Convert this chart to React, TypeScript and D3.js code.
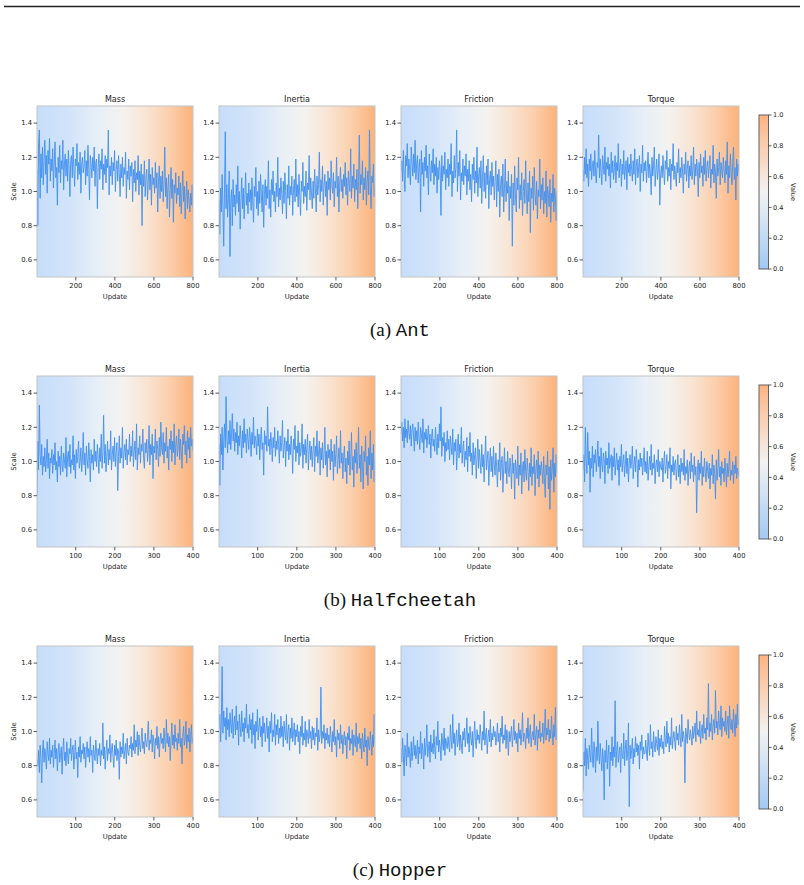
import React from 'react';
import * as d3 from 'd3';

// Panel titles (one column per perturbed physical parameter)
const titles = ['Mass', 'Inertia', 'Friction', 'Torque'];

// Sampled scale factors per update, stored in hundredths (115 -> 1.15)
const antMass = [
  113, 80, 128, 136, 96, 122, 108, 126, 104, 118, 130, 110, 121, 99, 124, 116, 131, 106, 119, 112,
  125, 102, 117, 129, 108, 114, 92, 120, 111, 127, 105, 118, 113, 130, 101, 116, 122, 109, 119, 106,
  124, 112, 97, 118, 121, 108, 126, 114, 103, 119, 115, 128, 107, 117, 110, 123, 99, 116, 120, 111,
  115, 124, 104, 118, 109, 127, 113, 95, 121, 116, 108, 120, 112, 126, 103, 117, 119, 90, 114, 122,
  107, 118, 113, 125, 101, 116, 110, 121, 105, 119, 114, 136, 98, 115, 109, 120, 104, 117, 112, 124,
  100, 113, 118, 106, 121, 111, 97, 116, 108, 120, 103, 114, 110, 123, 96, 112, 107, 119, 101, 115,
  109, 117, 94, 113, 105, 118, 100, 111, 107, 121, 98, 112, 104, 116, 80, 110, 103, 118, 97, 108,
  113, 95, 106, 119, 101, 110, 92, 114, 104, 108, 99, 117, 102, 111, 88, 106, 115, 96, 109, 100,
  112, 94, 105, 126, 97, 108, 90, 103, 110, 85, 101, 114, 96, 107, 82, 104, 99, 111, 93, 102,
  98, 109, 91, 105, 87, 100, 112, 94, 103, 84, 97, 106, 90, 101, 95, 88, 99, 92, 104, 90,
];
const antInertia = [
  95, 75, 102, 88, 110, 92, 68, 99, 135, 90, 104, 85, 96, 112, 62, 94, 101, 80, 107, 91,
  98, 86, 104, 93, 115, 88, 100, 78, 96, 108, 90, 102, 84, 97, 111, 92, 99, 87, 105, 94,
  101, 89, 108, 95, 82, 103, 97, 114, 90, 100, 86, 106, 93, 110, 98, 88, 104, 79, 99, 107,
  92, 103, 96, 118, 90, 101, 85, 107, 98, 112, 94, 100, 88, 105, 97, 120, 91, 102, 95, 108,
  99, 87, 106, 93, 111, 100, 84, 104, 96, 115, 92, 103, 98, 109, 86, 101, 107, 94, 119, 97,
  104, 91, 110, 98, 86, 106, 100, 117, 93, 103, 97, 112, 89, 105, 101, 121, 95, 108, 99, 90,
  106, 96, 113, 102, 88, 109, 98, 104, 123, 94, 107, 100, 115, 92, 103, 110, 97, 106, 86, 112,
  101, 108, 95, 118, 104, 99, 111, 91, 106, 102, 120, 97, 109, 88, 105, 114, 100, 107, 96, 110,
  103, 117, 98, 108, 92, 112, 105, 100, 125, 96, 109, 102, 116, 94, 107, 101, 113, 90, 106, 133,
  99, 110, 104, 118, 95, 108, 101, 114, 92, 106, 112, 98, 136, 103, 90, 109, 105, 116, 97, 104,
];
const antFriction = [
  112, 118, 106, 124, 110, 100, 121, 115, 128, 108, 119, 113, 104, 126, 117, 109, 122, 111, 130, 107,
  116, 121, 105, 114, 119, 88, 124, 110, 117, 103, 120, 112, 127, 108, 115, 98, 122, 113, 106, 118,
  111, 125, 104, 116, 109, 120, 99, 114, 107, 118, 112, 86, 121, 106, 115, 110, 123, 101, 113, 108,
  119, 103, 116, 110, 128, 97, 112, 105, 121, 108, 114, 136, 100, 117, 109, 124, 95, 111, 106, 119,
  104, 115, 109, 122, 98, 113, 106, 118, 101, 110, 94, 116, 107, 120, 99, 112, 105, 126, 97, 109,
  114, 102, 118, 93, 108, 121, 100, 111, 96, 115, 104, 119, 90, 107, 112, 98, 117, 103, 109, 95,
  106, 118, 91, 110, 100, 113, 85, 104, 109, 97, 116, 88, 102, 119, 94, 106, 99, 112, 83, 103,
  96, 110, 68, 105, 92, 115, 98, 88, 108, 101, 120, 90, 104, 95, 111, 86, 100, 107, 93, 118,
  99, 87, 105, 94, 112, 76, 102, 96, 109, 89, 114, 98, 92, 106, 84, 101, 97, 119, 90, 104,
  95, 108, 87, 100, 93, 112, 85, 103, 98, 91, 107, 82, 99, 94, 110, 88, 102, 96, 83, 100,
];
const antTorque = [
  113, 106, 120, 110, 125, 108, 116, 103, 119, 112, 122, 107, 115, 118, 109, 124, 111, 105, 117, 114,
  133, 108, 119, 112, 104, 121, 115, 110, 126, 106, 117, 113, 120, 109, 116, 102, 123, 111, 118, 107,
  114, 121, 105, 117, 112, 128, 108, 115, 119, 103, 116, 110, 124, 107, 113, 118, 101, 120, 111, 116,
  109, 122, 113, 106, 118, 110, 125, 104, 115, 119, 108, 114, 121, 100, 116, 111, 127, 106, 117, 112,
  118, 105, 114, 123, 108, 116, 111, 98, 120, 109, 115, 126, 103, 112, 119, 107, 113, 122, 92, 110,
  115, 108, 121, 111, 104, 118, 113, 124, 106, 114, 109, 119, 101, 116, 112, 128, 107, 115, 110, 103,
  117, 111, 125, 105, 114, 108, 120, 112, 99, 116, 110, 123, 106, 113, 118, 102, 115, 109, 121, 107,
  112, 126, 104, 116, 109, 119, 113, 97, 117, 108, 122, 111, 115, 103, 120, 110, 124, 106, 114, 118,
  108, 115, 121, 102, 113, 110, 127, 105, 116, 111, 96, 119, 109, 114, 123, 104, 117, 112, 108, 120,
  113, 105, 118, 110, 129, 99, 115, 108, 122, 111, 104, 117, 126, 107, 114, 95, 119, 109, 116, 112,
];

const hcMass = [
  80, 112, 95, 133, 104, 98, 110, 92, 103, 97, 108, 94, 101, 113, 96, 105, 90, 102, 99, 107,
  93, 104, 98, 111, 95, 100, 88, 106, 97, 103, 92, 109, 99, 94, 105, 101, 96, 114, 91, 102,
  106, 97, 110, 93, 101, 98, 115, 95, 104, 90, 107, 99, 103, 112, 96, 100, 108, 94, 102, 117,
  98, 105, 92, 109, 101, 96, 111, 103, 88, 107, 99, 104, 95, 113, 100, 106, 97, 110, 102, 93,
  108, 100, 116, 96, 105, 127, 99, 110, 94, 103, 112, 98, 107, 101, 118, 95, 104, 109, 100, 114,
  97, 106, 111, 83, 103, 115, 99, 108, 102, 120, 96, 105, 110, 101, 113, 98, 107, 104, 116, 100,
  109, 103, 118, 97, 106, 112, 101, 122, 95, 108, 104, 115, 99, 110, 106, 119, 102, 96, 111, 105,
  113, 100, 107, 121, 98, 110, 104, 116, 90, 109, 105, 119, 101, 112, 107, 97, 114, 103, 123, 108,
  104, 117, 99, 111, 106, 120, 102, 109, 95, 113, 107, 118, 100, 112, 105, 122, 98, 110, 115, 103,
  108, 119, 101, 113, 106, 96, 116, 110, 121, 104, 112, 99, 118, 107, 114, 102, 120, 109, 113, 106,
];
const hcInertia = [
  110, 86, 116, 104, 120, 95, 112, 122, 108, 138, 114, 105, 118, 110, 124, 107, 116, 128, 112, 119,
  106, 117, 111, 123, 104, 115, 109, 121, 113, 102, 118, 108, 125, 111, 116, 105, 119, 113, 107, 120,
  114, 103, 117, 110, 126, 108, 115, 112, 104, 119, 109, 116, 101, 113, 120, 107, 111, 92, 118, 110,
  115, 106, 132, 109, 113, 104, 117, 111, 100, 114, 108, 120, 103, 112, 107, 118, 110, 99, 115, 106,
  111, 124, 102, 109, 114, 97, 112, 106, 119, 101, 110, 104, 115, 108, 93, 113, 107, 121, 100, 109,
  105, 118, 98, 111, 103, 107, 122, 96, 110, 104, 113, 99, 108, 116, 95, 106, 112, 101, 109, 97,
  107, 114, 94, 109, 103, 118, 99, 105, 112, 92, 108, 101, 111, 96, 104, 120, 98, 106, 91, 110,
  102, 107, 95, 113, 100, 106, 89, 110, 97, 104, 115, 93, 101, 108, 96, 118, 99, 105, 90, 103,
  109, 94, 102, 87, 106, 98, 112, 92, 100, 117, 95, 103, 85, 107, 99, 111, 93, 101, 120, 96,
  104, 88, 109, 97, 84, 106, 100, 115, 92, 103, 86, 108, 98, 118, 90, 105, 95, 110, 88, 101,
];
const hcFriction = [
  116, 123, 112, 120, 108, 125, 114, 119, 111, 124, 117, 113, 121, 109, 118, 122, 115, 106, 120, 112,
  118, 110, 123, 114, 107, 120, 116, 111, 125, 105, 117, 113, 119, 108, 115, 121, 110, 116, 102, 114,
  119, 109, 113, 106, 120, 111, 104, 116, 108, 122, 112, 132, 103, 114, 109, 117, 100, 111, 106, 118,
  107, 113, 101, 115, 109, 104, 119, 98, 111, 106, 113, 95, 108, 116, 102, 110, 105, 120, 99, 107,
  112, 97, 106, 101, 114, 94, 109, 103, 117, 100, 105, 92, 111, 98, 104, 108, 90, 102, 113, 96,
  107, 100, 93, 110, 97, 104, 88, 102, 115, 95, 101, 106, 86, 99, 108, 94, 103, 91, 109, 98,
  92, 105, 97, 85, 101, 94, 111, 89, 99, 103, 82, 96, 108, 93, 100, 87, 106, 95, 91, 102,
  97, 84, 104, 93, 99, 78, 101, 95, 90, 109, 86, 98, 92, 105, 81, 96, 100, 88, 107, 94,
  89, 102, 95, 83, 99, 91, 108, 86, 97, 93, 104, 80, 96, 101, 90, 106, 85, 98, 92, 100,
  94, 87, 103, 90, 79, 98, 92, 106, 84, 97, 72, 101, 89, 95, 108, 82, 99, 91, 104, 93,
];
const hcTorque = [
  95, 104, 88, 120, 100, 93, 117, 98, 106, 82, 102, 96, 109, 91, 104, 99, 107, 94, 101, 112,
  97, 103, 90, 108, 99, 94, 105, 101, 87, 106, 98, 102, 93, 111, 96, 100, 104, 89, 103, 97,
  108, 92, 99, 105, 95, 101, 86, 103, 97, 110, 94, 100, 104, 91, 98, 106, 93, 102, 88, 99,
  104, 96, 100, 109, 90, 98, 103, 94, 107, 99, 85, 101, 95, 105, 97, 102, 92, 99, 108, 94,
  100, 93, 106, 89, 97, 103, 95, 110, 92, 99, 96, 104, 87, 98, 101, 94, 107, 91, 100, 97,
  95, 102, 88, 99, 106, 93, 97, 104, 90, 100, 96, 108, 84, 98, 94, 103, 92, 99, 101, 89,
  96, 104, 91, 98, 87, 102, 94, 99, 92, 107, 89, 97, 93, 101, 86, 96, 100, 90, 105, 94,
  98, 88, 103, 92, 97, 70, 95, 101, 89, 99, 93, 106, 86, 97, 91, 102, 94, 88, 100, 95,
  90, 99, 84, 96, 92, 104, 87, 98, 93, 78, 101, 89, 95, 107, 91, 97, 86, 100, 93, 96,
  88, 102, 94, 85, 99, 91, 97, 106, 89, 95, 92, 100, 87, 98, 93, 103, 90, 96, 94, 91,
];

const hopMass = [
  84, 80, 89, 76, 92, 85, 70, 88, 95, 82, 90, 86, 78, 94, 87, 83, 96, 81, 89, 85,
  92, 79, 87, 95, 84, 90, 77, 88, 93, 82, 86, 91, 75, 89, 96, 83, 88, 80, 94, 86,
  81, 90, 87, 96, 83, 89, 92, 78, 86, 95, 84, 88, 73, 91, 85, 97, 82, 89, 87, 93,
  84, 91, 79, 88, 94, 85, 90, 82, 97, 86, 89, 76, 92, 87, 83, 95, 88, 81, 90, 86,
  93, 80, 89, 86, 105, 84, 91, 78, 88, 95, 83, 90, 87, 98, 82, 89, 93, 85, 79, 92,
  86, 95, 83, 90, 88, 72, 94, 85, 91, 87, 99, 84, 89, 93, 81, 96, 88, 86, 92, 90,
  97, 85, 93, 89, 104, 87, 95, 91, 100, 86, 98, 92, 88, 96, 102, 90, 94, 87, 99, 93,
  91, 97, 106, 89, 95, 93, 101, 88, 98, 94, 84, 96, 92, 103, 90, 97, 85, 95, 99, 93,
  96, 90, 102, 94, 88, 107, 93, 99, 91, 97, 83, 95, 105, 92, 98, 90, 104, 94, 96, 89,
  99, 93, 107, 91, 96, 81, 97, 103, 92, 95, 106, 90, 98, 94, 102, 88, 96, 104, 93, 97,
];
const hopInertia = [
  102, 110, 94, 106, 138, 99, 112, 103, 108, 95, 114, 101, 107, 97, 111, 104, 99, 113, 96, 105,
  109, 98, 115, 101, 106, 92, 110, 103, 97, 112, 100, 105, 94, 108, 102, 116, 99, 104, 96, 110,
  101, 107, 93, 111, 98, 104, 90, 106, 100, 113, 95, 102, 108, 97, 103, 91, 109, 99, 105, 94,
  100, 108, 96, 103, 88, 106, 99, 111, 94, 101, 97, 110, 92, 104, 98, 107, 93, 102, 96, 109,
  97, 103, 91, 106, 99, 95, 110, 93, 100, 104, 89, 102, 96, 108, 94, 99, 105, 92, 101, 97,
  104, 94, 100, 87, 103, 97, 109, 92, 99, 95, 106, 91, 101, 98, 93, 107, 96, 100, 90, 103,
  95, 102, 92, 99, 97, 108, 89, 101, 94, 98, 126, 93, 100, 96, 104, 90, 99, 95, 102, 93,
  98, 91, 103, 96, 88, 100, 94, 107, 92, 97, 85, 101, 95, 99, 90, 104, 93, 98, 87, 96,
  100, 92, 97, 84, 99, 95, 103, 89, 96, 93, 101, 86, 98, 94, 91, 105, 88, 97, 93, 99,
  90, 96, 84, 99, 93, 88, 102, 91, 95, 80, 97, 92, 89, 100, 94, 86, 98, 91, 110, 93,
];
const hopFriction = [
  90, 82, 96, 86, 74, 92, 88, 80, 99, 85, 91, 87, 79, 94, 83, 89, 97, 86, 92, 84,
  88, 95, 81, 91, 87, 100, 84, 93, 89, 78, 96, 86, 92, 104, 85, 90, 94, 82, 98, 88,
  93, 87, 101, 90, 84, 97, 92, 106, 88, 95, 91, 83, 99, 94, 89, 102, 86, 96, 93, 90,
  97, 92, 88, 104, 95, 90, 110, 93, 99, 86, 96, 101, 91, 94, 105, 89, 98, 93, 87, 100,
  95, 102, 91, 97, 108, 93, 99, 88, 103, 96, 92, 100, 85, 97, 106, 94, 90, 101, 95, 98,
  93, 104, 97, 89, 100, 95, 112, 92, 98, 102, 87, 96, 101, 94, 107, 91, 99, 95, 103, 97,
  100, 92, 96, 105, 94, 99, 88, 102, 97, 109, 93, 98, 95, 104, 90, 101, 96, 86, 100, 94,
  98, 103, 91, 97, 107, 95, 100, 93, 99, 88, 105, 96, 101, 92, 98, 111, 94, 99, 97, 90,
  102, 96, 108, 93, 99, 104, 91, 97, 100, 95, 110, 92, 98, 103, 89, 101, 96, 106, 94, 99,
  97, 105, 93, 100, 113, 95, 102, 98, 107, 94, 101, 96, 109, 99, 92, 104, 97, 114, 95, 102,
];
const hopTorque = [
  65, 88, 80, 96, 74, 90, 84, 78, 92, 86, 82, 102, 85, 79, 94, 88, 76, 91, 83, 106,
  87, 81, 93, 85, 77, 90, 84, 60, 89, 82, 95, 78, 86, 92, 68, 88, 83, 97, 80, 91,
  85, 118, 79, 89, 94, 82, 87, 91, 76, 93, 86, 84, 99, 80, 90, 95, 83, 88, 105, 56,
  92, 84, 89, 96, 81, 90, 85, 97, 88, 93, 86, 92, 78, 94, 89, 98, 84, 91, 87, 87,
  95, 88, 83, 99, 91, 86, 104, 90, 94, 85, 100, 92, 88, 97, 93, 89, 101, 86, 96, 91,
  98, 90, 94, 87, 103, 95, 91, 106, 93, 99, 88, 97, 92, 108, 90, 96, 100, 94, 89, 103,
  95, 99, 92, 104, 97, 91, 110, 94, 100, 96, 70, 102, 98, 93, 107, 99, 95, 101, 97, 92,
  103, 96, 100, 105, 94, 112, 98, 101, 97, 106, 93, 100, 104, 96, 110, 99, 102, 95, 108, 101,
  128, 97, 105, 100, 110, 95, 103, 107, 99, 124, 102, 106, 98, 112, 104, 101, 115, 97, 108, 103,
  106, 100, 112, 98, 104, 109, 96, 115, 103, 101, 107, 99, 113, 105, 97, 110, 102, 116, 104, 108,
];

const antTicks = [200, 400, 600, 800];
const shortTicks = [100, 200, 300, 400];
const scaleTicks = [0.6, 0.8, 1.0, 1.2, 1.4];
const valueTicks = [0, 0.2, 0.4, 0.6, 0.8, 1.0];

const envs = [
  { tag: '(a)', name: 'Ant', maxUpdate: 800, ticks: antTicks, series: [antMass, antInertia, antFriction, antTorque] },
  { tag: '(b)', name: 'Halfcheetah', maxUpdate: 400, ticks: shortTicks, series: [hcMass, hcInertia, hcFriction, hcTorque] },
  { tag: '(c)', name: 'Hopper', maxUpdate: 400, ticks: shortTicks, series: [hopMass, hopInertia, hopFriction, hopTorque] },
];

// Layout
const W = 804;
const H = 885;
const PX0 = 37;
const PSTEP = 182;
const PW = 156;
const PH = 171;
const ROW0 = 106;
const ROWSTEP = 270;
const CB_X = 759;
const CB_W = 9.5;

const SANS = '"DejaVu Sans", sans-serif';
const TICK_FS = 6.8;

// Diverging colour map: pastel blue -> near white -> pastel orange
const cmap = d3
  .scaleLinear<string>()
  .domain([0, 0.5, 1])
  .range(['#a1c9f4', '#f2f2f2', '#ffb482'])
  .interpolate(d3.interpolateRgb);

// Panel background shading (softened version of the colour map)
const bgShade = [
  { offset: 0, color: '#c6ddfa' },
  { offset: 0.2, color: '#d2e4fa' },
  { offset: 0.4, color: '#e8eff7' },
  { offset: 0.55, color: '#f4f2ef' },
  { offset: 0.7, color: '#f9e4d3' },
  { offset: 0.85, color: '#fbcfac' },
  { offset: 1, color: '#fcb27b' },
];

const y = d3.scaleLinear().domain([0.5, 1.5]).range([PH, 0]);

function Panel({ px, py, title, values, maxUpdate, ticks, showYLabel, id }) {
  const x = d3.scaleLinear().domain([1, maxUpdate]).range([0, PW]);
  const n = values.length;
  const line = d3
    .line<number>()
    .x((_, i) => x(1 + (i * (maxUpdate - 1)) / (n - 1)))
    .y((d) => y(d / 100));
  return (
    <g transform={`translate(${px},${py})`}>
      <clipPath id={`clip-${id}`}>
        <rect x={0} y={0} width={PW} height={PH} />
      </clipPath>
      <rect x={0} y={0} width={PW} height={PH} fill="url(#bgGrad)" />
      <path
        d={line(values) || ''}
        fill="none"
        stroke="#4190ee"
        strokeOpacity={0.9}
        strokeWidth={1}
        strokeLinejoin="round"
        clipPath={`url(#clip-${id})`}
      />
      <rect x={0} y={0} width={PW} height={PH} fill="none" stroke="#c4c4c4" strokeWidth={1} />
      <text x={PW / 2} y={-4} textAnchor="middle" fontFamily={SANS} fontSize={8} fill="#222">
        {title}
      </text>
      {scaleTicks.map((t) => (
        <g key={t} transform={`translate(0,${y(t)})`}>
          <line x1={-3.5} x2={0} stroke="#333" strokeWidth={0.8} />
          <text x={-5} dy="0.33em" textAnchor="end" fontFamily={SANS} fontSize={TICK_FS} fill="#222">
            {t.toFixed(1)}
          </text>
        </g>
      ))}
      {ticks.map((t) => (
        <g key={t} transform={`translate(${x(t)},${PH})`}>
          <line y1={0} y2={3.5} stroke="#333" strokeWidth={0.8} />
          <text y={11} textAnchor="middle" fontFamily={SANS} fontSize={TICK_FS} fill="#222">
            {t}
          </text>
        </g>
      ))}
      <text x={PW / 2} y={PH + 22} textAnchor="middle" fontFamily={SANS} fontSize={TICK_FS} fill="#222">
        Update
      </text>
      {showYLabel && (
        <text
          transform={`translate(-21,${PH / 2}) rotate(-90)`}
          textAnchor="middle"
          fontFamily={SANS}
          fontSize={TICK_FS}
          fill="#222"
        >
          Scale
        </text>
      )}
    </g>
  );
}

function Colorbar({ py }) {
  const top = py + 9;
  const height = 154;
  const cy = d3.scaleLinear().domain([0, 1]).range([top + height, top]);
  return (
    <g>
      <rect x={CB_X} y={top} width={CB_W} height={height} fill="url(#cbGrad)" stroke="#555" strokeWidth={0.9} />
      {valueTicks.map((t) => (
        <g key={t} transform={`translate(${CB_X + CB_W},${cy(t)})`}>
          <line x1={0} x2={3} stroke="#333" strokeWidth={0.8} />
          <text x={4.5} dy="0.33em" fontFamily={SANS} fontSize={6.5} fill="#222">
            {t.toFixed(1)}
          </text>
        </g>
      ))}
      <text
        transform={`translate(791,${top + height / 2}) rotate(90)`}
        textAnchor="middle"
        fontFamily={SANS}
        fontSize={6.5}
        fill="#222"
      >
        Value
      </text>
    </g>
  );
}

export default function App() {
  const cbStops = d3.range(0, 1.0001, 0.1);
  return (
    <svg
      width={W}
      height={H}
      viewBox={`0 0 ${W} ${H}`}
      style={{ position: 'absolute', left: 0, top: 0, background: '#fff' }}
    >
      <defs>
        <linearGradient id="bgGrad" x1="0" y1="0" x2="1" y2="0">
          {bgShade.map((s) => (
            <stop key={s.offset} offset={s.offset} stopColor={s.color} />
          ))}
        </linearGradient>
        <linearGradient id="cbGrad" x1="0" y1="1" x2="0" y2="0">
          {cbStops.map((s) => (
            <stop key={s} offset={s} stopColor={cmap(s)} />
          ))}
        </linearGradient>
      </defs>
      <rect x={0} y={0} width={W} height={H} fill="#fff" />
      <line x1={4} x2={800} y1={6.5} y2={6.5} stroke="#222" strokeWidth={1.3} />
      {envs.map((env, r) => {
        const py = ROW0 + r * ROWSTEP;
        return (
          <g key={env.name}>
            {env.series.map((vals, c) => (
              <Panel
                key={c}
                id={`${r}-${c}`}
                px={PX0 + c * PSTEP}
                py={py}
                title={titles[c]}
                values={vals}
                maxUpdate={env.maxUpdate}
                ticks={env.ticks}
                showYLabel={c === 0}
              />
            ))}
            <Colorbar py={py} />
            <text x={400} y={py + 230} textAnchor="middle" fontSize={19} fill="#111" style={{ whiteSpace: 'pre' }}>
              <tspan fontFamily='"Liberation Serif", "Times New Roman", serif'>{env.tag} </tspan>
              <tspan fontFamily='"Courier New", Courier, "Nimbus Mono PS", FreeMono, "Liberation Mono", monospace'>
                {env.name}
              </tspan>
            </text>
          </g>
        );
      })}
    </svg>
  );
}
